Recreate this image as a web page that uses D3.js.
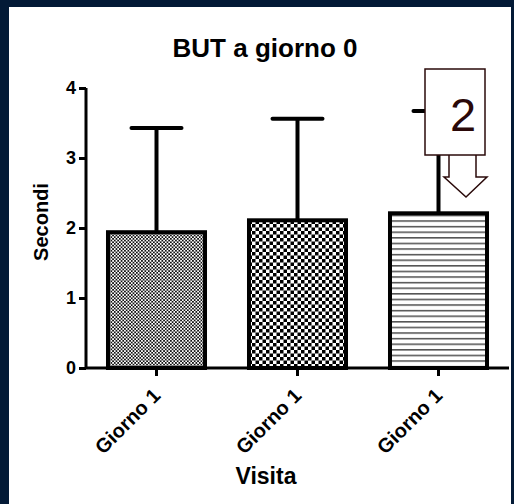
<!DOCTYPE html>
<html>
<head>
<meta charset="utf-8">
<script src="https://cdn.jsdelivr.net/npm/d3@7"></script>
<style>
  html, body { margin: 0; padding: 0; background: #031a36; }
  svg { display: block; }
</style>
</head>
<body>
<script>
// BUT at day 0: mean seconds per visit, with upper SD whisker
const categories = ["Giorno 1", "Giorno 1", "Giorno 1"];
const means = [1.94, 2.11, 2.21];
const upper = [3.43, 3.56, 3.67];
const yTicks = [0, 1, 2, 3, 4];
const patterns = ["fineCheck", "coarseCheck", "hLines"];
const calloutLabel = "2";

const W = 514, H = 504;
const svg = d3.select("body").append("svg").attr("width", W).attr("height", H);

// dark frame and white page
svg.append("rect").attr("width", W).attr("height", H).attr("fill", "#031a36");
svg.append("rect").attr("x", 9).attr("y", 7).attr("width", 502).attr("height", 497).attr("fill", "#fff");

const defs = svg.append("defs");
// fine checkerboard
const p1 = defs.append("pattern").attr("id", "fineCheck").attr("patternUnits", "userSpaceOnUse")
  .attr("width", 3.4).attr("height", 3.4);
p1.append("rect").attr("width", 3.4).attr("height", 3.4).attr("fill", "#fff");
p1.append("rect").attr("width", 1.7).attr("height", 1.7).attr("fill", "#111");
p1.append("rect").attr("x", 1.7).attr("y", 1.7).attr("width", 1.7).attr("height", 1.7).attr("fill", "#111");
// coarse checkerboard
const p2 = defs.append("pattern").attr("id", "coarseCheck").attr("patternUnits", "userSpaceOnUse")
  .attr("width", 7).attr("height", 7);
p2.append("rect").attr("width", 7).attr("height", 7).attr("fill", "#fff");
p2.append("rect").attr("width", 3.5).attr("height", 3.5).attr("fill", "#000");
p2.append("rect").attr("x", 3.5).attr("y", 3.5).attr("width", 3.5).attr("height", 3.5).attr("fill", "#000");
// horizontal lines
const p3 = defs.append("pattern").attr("id", "hLines").attr("patternUnits", "userSpaceOnUse")
  .attr("width", 10).attr("height", 5.6);
p3.append("rect").attr("width", 10).attr("height", 5.6).attr("fill", "#fff");
p3.append("rect").attr("y", 2).attr("width", 10).attr("height", 1.3).attr("fill", "#333");

const x0 = 86, yBase = 368, xEnd = 509;
const y = d3.scaleLinear().domain([0, 4]).range([yBase, 88]);
const x = d3.scaleBand().domain(d3.range(categories.length)).range([x0, xEnd])
  .paddingInner(0.312).paddingOuter(0.156);

const font = "'Liberation Sans', Arial, sans-serif";

// title
svg.append("text").attr("x", 265).attr("y", 57).attr("text-anchor", "middle")
  .attr("font-family", font).attr("font-weight", "bold").attr("font-size", 26).text("BUT a giorno 0");

// bars
const g = svg.append("g");
categories.forEach((c, i) => {
  const bx = x(i), bw = x.bandwidth(), cx = bx + bw / 2;
  // whisker
  g.append("line").attr("x1", cx).attr("x2", cx).attr("y1", y(means[i])).attr("y2", y(upper[i]))
    .attr("stroke", "#000").attr("stroke-width", 4);
  g.append("line").attr("x1", cx - 25).attr("x2", cx + 25).attr("y1", y(upper[i])).attr("y2", y(upper[i]))
    .attr("stroke", "#000").attr("stroke-width", 4).attr("stroke-linecap", "round");
  g.append("rect").attr("x", bx).attr("y", y(means[i])).attr("width", bw).attr("height", y(0) - y(means[i]))
    .attr("fill", `url(#${patterns[i]})`).attr("stroke", "#000").attr("stroke-width", 4);
});

// y axis
const yAxis = svg.append("g").attr("transform", `translate(${x0},0)`)
  .call(d3.axisLeft(y).tickValues(yTicks).tickFormat(d3.format("d")).tickSize(7).tickPadding(3));
yAxis.select(".domain").attr("stroke-width", 3).attr("d", `M0,${y(4)}V${y(0)}`);
yAxis.selectAll(".tick line").attr("stroke-width", 3);
yAxis.selectAll("text").attr("font-family", font).attr("font-weight", "bold").attr("font-size", 18).attr("fill", "#000");

// x axis
const xAxis = svg.append("g").attr("transform", `translate(0,${yBase})`)
  .call(d3.axisBottom(x).tickFormat(i => categories[i]).tickSize(8).tickSizeOuter(0));
xAxis.select(".domain").attr("stroke-width", 3).attr("d", `M${x0},0H${xEnd}`);
xAxis.selectAll(".tick line").attr("stroke-width", 3);
xAxis.selectAll("text").attr("font-family", font).attr("font-weight", "bold").attr("font-size", 20).attr("fill", "#000")
  .attr("text-anchor", "end").attr("x", 0).attr("y", 0).attr("dy", 0)
  .attr("transform", "translate(5,29) rotate(-45)");

// axis titles
svg.append("text").attr("transform", `translate(48,222) rotate(-90)`).attr("text-anchor", "middle")
  .attr("font-family", font).attr("font-weight", "bold").attr("font-size", 20).text("Secondi");
svg.append("text").attr("x", 266).attr("y", 484).attr("text-anchor", "middle")
  .attr("font-family", font).attr("font-weight", "bold").attr("font-size", 23).text("Visita");

// callout with down arrow
const co = svg.append("g");
co.append("path")
  .attr("d", "M449,155V177H444L466,197L487,177H476V155")
  .attr("fill", "#fff").attr("stroke", "#2a0a0a").attr("stroke-width", 1.5);
co.append("rect").attr("x", 425).attr("y", 69).attr("width", 60).attr("height", 86)
  .attr("fill", "#fff").attr("stroke", "#2a0a0a").attr("stroke-width", 1.5);
co.append("text").attr("x", 463).attr("y", 131).attr("text-anchor", "middle")
  .attr("font-family", font).attr("font-size", 47).attr("fill", "#2a0808")
  .text(calloutLabel);
</script>
</body>
</html>
